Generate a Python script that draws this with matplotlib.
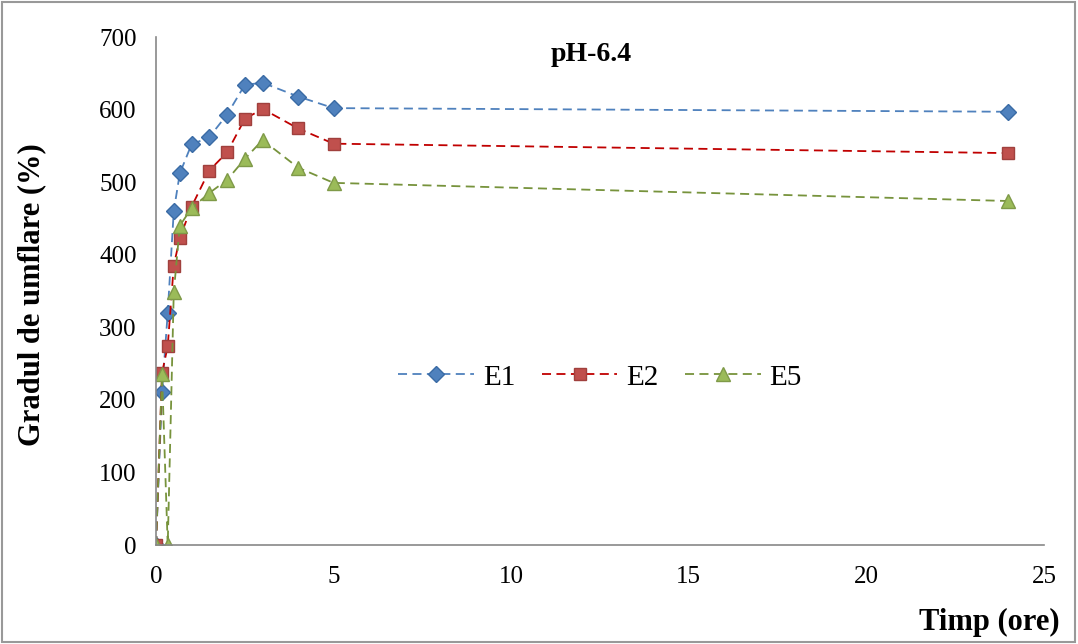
import matplotlib
matplotlib.use("Agg")
import matplotlib.pyplot as plt
from matplotlib.patches import Rectangle

plt.rcParams['font.family'] = ['Liberation Serif', 'DejaVu Serif']

t = [0, 0.17, 0.33, 0.5, 0.67, 1, 1.5, 2, 2.5, 3, 4, 5, 24]
e1 = [0, 211, 320, 460, 512, 552, 562, 593, 634, 637, 618, 602, 597]
e2 = [0, 237, 274, 385, 423, 466, 516, 541, 587, 601, 574, 553, 540]
e5 = [0, 235, 0, 348, 440, 464, 485, 503, 532, 558, 520, 499, 474]

fig = plt.figure(figsize=(10.78, 6.44), dpi=100)
ax = fig.add_axes([156/1078, 1-545/644, (1044-156)/1078, (545-37)/644])

ax.plot(t, e1, ls=(0, (5, 3)), color='#4F81BD', lw=1.3, marker='D', ms=8.5,
        mfc='#4F81BD', mec='#3A6BA5', label='E1')
ax.plot(t, e2, ls=(0, (5, 3)), color='#C00000', lw=1.3, marker='s', ms=8,
        mfc='#C0504D', mec='#A0403D', label='E2')
ax.plot(t, e5, ls=(0, (5, 3)), color='#77933C', lw=1.3, marker='^', ms=10,
        mfc='#9BBB59', mec='#7F9A48', label='E5')

ax.set_xlim(0, 25)
ax.set_ylim(0, 700)
ax.set_xticks(range(0, 26, 5))
ax.set_yticks(range(0, 701, 100))
for s in ['top', 'right']:
    ax.spines[s].set_visible(False)
for s in ['left', 'bottom']:
    ax.spines[s].set_color('#888888')
    ax.spines[s].set_linewidth(1.2)
ax.tick_params(axis='both', length=0, labelsize=18, pad=15)
ax.tick_params(axis='y', pad=14)

ax.text(0.49, 0.99, 'pH-6.4', transform=ax.transAxes, ha='center', va='top',
        fontsize=20, fontweight='bold')
ax.legend(loc='center', bbox_to_anchor=(0.50, 0.33), ncol=3, frameon=False,
          fontsize=21, handlelength=2.6, columnspacing=0.9, handletextpad=0.3)

fig.text(32/1078, 1-295/644, 'Gradul de umflare (%)', rotation=90, ha='center',
         va='center', fontsize=22, fontweight='bold')
fig.text(1060/1078, 1-622/644, 'Timp (ore)', ha='right', va='center',
         fontsize=22, fontweight='bold')

fig.patches.append(Rectangle((0.002, 0.003), 0.995, 0.994, transform=fig.transFigure,
                             fill=False, edgecolor='#999999', lw=1.5))

fig.savefig('out.png', dpi=100)
